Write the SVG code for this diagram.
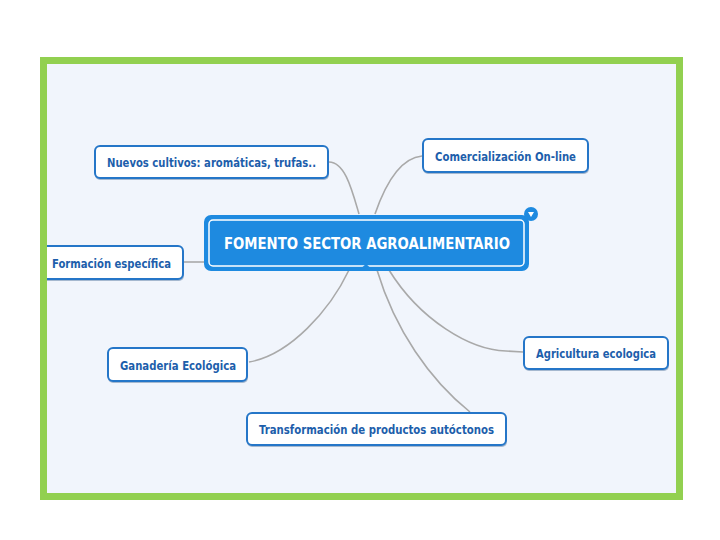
<svg xmlns="http://www.w3.org/2000/svg" width="720" height="540" viewBox="0 0 720 540">
<defs>
<style>
.bg{fill:#ffffff}
.frame{fill:#f1f5fc}
.frameline{fill:none;stroke:#92d050;stroke-width:7}
.conn{fill:none;stroke:#a9a9a9;stroke-width:1.6}
.sh{fill:#4a6f9a;opacity:0.45}
.box{fill:#ffffff;stroke:#2576c8;stroke-width:2}
.lbl{font-family:"DejaVu Sans Condensed","DejaVu Sans",sans-serif;font-weight:bold;font-size:12.5px;fill:#1d5eab;dominant-baseline:central}
.ctr{fill:#1e8ae0;stroke:#1e8ae0;stroke-width:2}
.ctrin{fill:none;stroke:#ffffff;stroke-width:1.5}
.ctxt{font-family:"DejaVu Sans Condensed","DejaVu Sans",sans-serif;font-weight:bold;font-size:16px;fill:#ffffff;dominant-baseline:central}
</style>
</defs>
<rect class="bg" x="0" y="0" width="720" height="540"/>
<rect class="frame" x="43.5" y="60.5" width="636" height="436"/>

<g id="connectors">
<path class="conn" d="M329,162 C345,162 352,190 359,214"/>
<path class="conn" d="M422,156 C400,158 385,185 375,214"/>
<path class="conn" d="M183,262 L206,262"/>
<path class="conn" d="M349,270 C330,310 290,355 249,362"/>
<path class="conn" d="M377,270 C395,330 430,380 470,412"/>
<path class="conn" d="M389,270 C420,320 470,350 506,351 L523,352"/>
</g>

<g id="node-nuevos">
<rect class="sh" x="95" y="148" width="234" height="32" rx="5"/>
<rect class="box" x="95" y="146" width="233" height="32" rx="5"/>
<text class="lbl" x="107" y="162" textLength="209" lengthAdjust="spacingAndGlyphs">Nuevos cultivos: aromáticas, trufas..</text>
</g>

<g id="node-comercializacion">
<rect class="sh" x="423" y="141" width="166" height="33" rx="5"/>
<rect class="box" x="423" y="139" width="165" height="33" rx="5"/>
<text class="lbl" x="435" y="156" textLength="141" lengthAdjust="spacingAndGlyphs">Comercialización On-line</text>
</g>

<g id="node-formacion">
<rect class="sh" x="34" y="248" width="150" height="33" rx="5"/>
<rect class="box" x="34" y="246" width="149" height="33" rx="5"/>
<text class="lbl" x="52" y="263" textLength="119" lengthAdjust="spacingAndGlyphs">Formación específica</text>
</g>

<g id="node-central">
<rect class="ctr" x="205" y="216" width="323" height="54" rx="6"/>
<rect class="ctrin" x="209" y="220" width="315" height="46" rx="4"/>
<path d="M359,270 L366,264 L373,270 Z" fill="#1e8ae0"/>
<circle cx="531" cy="214" r="7" fill="#1e8ae0"/>
<path d="M528,212 L534,212 L531,217 Z" fill="#ffffff"/>
<text class="ctxt" x="224" y="243" textLength="286" lengthAdjust="spacingAndGlyphs">FOMENTO SECTOR AGROALIMENTARIO</text>
</g>

<g id="node-agricultura">
<rect class="sh" x="524" y="339" width="145" height="32" rx="5"/>
<rect class="box" x="524" y="337" width="144" height="32" rx="5"/>
<text class="lbl" x="536" y="353" textLength="120" lengthAdjust="spacingAndGlyphs">Agricultura ecologica</text>
</g>

<g id="node-ganaderia">
<rect class="sh" x="108" y="350" width="140" height="33" rx="5"/>
<rect class="box" x="108" y="348" width="139" height="33" rx="5"/>
<text class="lbl" x="120" y="365" textLength="116" lengthAdjust="spacingAndGlyphs">Ganadería Ecológica</text>
</g>

<g id="node-transformacion">
<rect class="sh" x="247" y="415" width="260" height="32" rx="5"/>
<rect class="box" x="247" y="413" width="259" height="32" rx="5"/>
<text class="lbl" x="259" y="429" textLength="235" lengthAdjust="spacingAndGlyphs">Transformación de productos autóctonos</text>
</g>

<rect class="bg" x="0" y="240" width="40" height="50"/>
<rect class="frameline" x="43.5" y="60.5" width="636" height="436"/>
</svg>
